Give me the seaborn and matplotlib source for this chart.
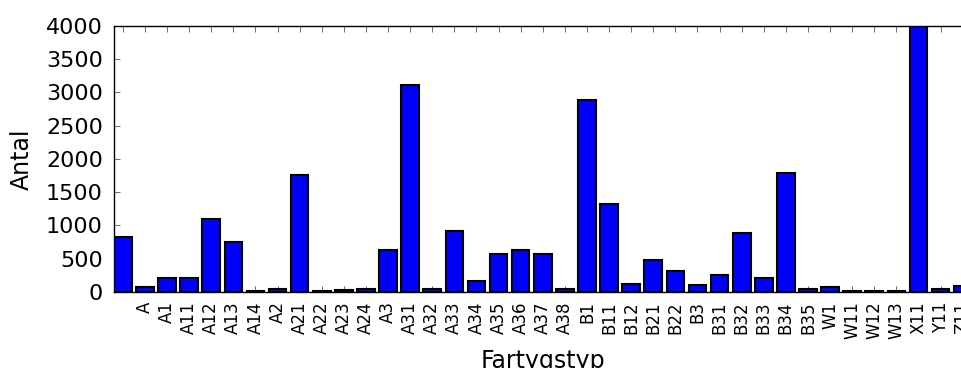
"""
Antal fartyg per fartygstyp
"""
import seaborn as sns
import pandas as pd
import matplotlib
matplotlib.use("Agg")
import matplotlib.pyplot as plt

# Categories (first one is blank in the source data).
types = ["", "A", "A1", "A11", "A12", "A13", "A14", "A2", "A21", "A22",
         "A23", "A24", "A3", "A31", "A32", "A33", "A34", "A35", "A36", "A37",
         "A38", "B1", "B11", "B12", "B21", "B22", "B3", "B31", "B32", "B33",
         "B34", "B35", "W1", "W11", "W12", "W13", "X11", "Y11", "Z11"]
counts = [830, 70, 210, 200, 1100, 750, 5, 35, 1760, 15,
          25, 45, 635, 3110, 35, 920, 165, 575, 625, 565,
          35, 2890, 1325, 115, 475, 305, 100, 250, 880, 210,
          1780, 35, 75, 5, 5, 5, 4000, 35, 85]


def gen_barplot():
    df = pd.DataFrame({"Fartygstyp": types, "Antal": counts})

    sns.set_style("white", {"text.color": "black", "axes.labelcolor": "black",
                            "xtick.color": "black", "ytick.color": "black"})
    fig = plt.figure(figsize=(9.62, 3.68), dpi=100)
    # Axes run past the right edge of the figure, as in the original.
    ax = fig.add_axes([0.1185, 0.2073, 0.8914, 0.722])

    sns.barplot(data=df, x="Fartygstyp", y="Antal", ax=ax, color="blue",
                saturation=1, edgecolor="black", linewidth=1.5, width=0.8)

    ax.set_xlim(-0.4, len(types) - 0.6)
    ax.set_ylim(0, 4000)
    ax.set_yticks(range(0, 4001, 500))

    # Add info to plot.
    ax.set_xlabel("Fartygstyp", fontsize=17, labelpad=7, color="black")
    ax.set_ylabel("Antal", fontsize=17, labelpad=9, color="black")
    ax.tick_params(axis="x", labelsize=12, rotation=90, direction="in",
                   top=True, bottom=True, length=4, width=0.6, color="#555555",
                   labelcolor="black", pad=7)
    ax.tick_params(axis="y", labelsize=16, direction="in", left=True,
                   right=True, length=4, width=0.6, color="#555555",
                   labelcolor="black", pad=8)
    for s in ax.spines.values():
        s.set_visible(True)
        s.set_color("black")
        s.set_linewidth(1.0)

    plt.savefig("out.png", dpi=100)


if __name__ == "__main__":
    gen_barplot()
